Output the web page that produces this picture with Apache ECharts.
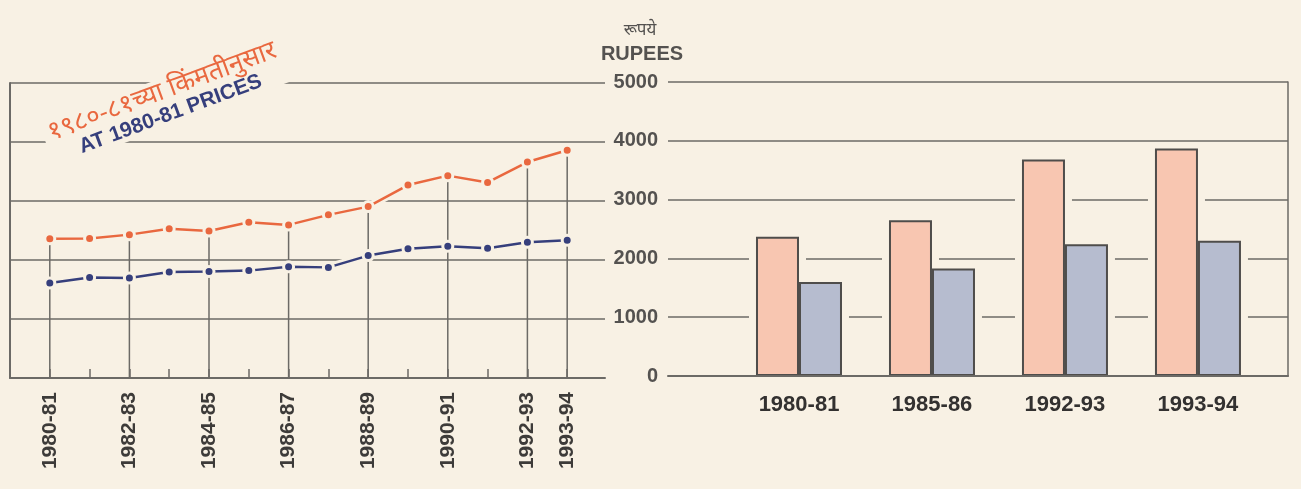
<!DOCTYPE html>
<html>
<head>
<meta charset="utf-8">
<script src="https://cdn.jsdelivr.net/npm/echarts@6/dist/echarts.min.js"></script>
<style>
  html, body { margin: 0; padding: 0; background: #f8f1e4; }
  #chart { width: 1301px; height: 489px; }
</style>
</head>
<body>
<div id="chart"></div>
<script>
// line chart, one point per year
const years = ['1980-81', '1981-82', '1982-83', '1983-84', '1984-85', '1985-86', '1986-87',
  '1987-88', '1988-89', '1989-90', '1990-91', '1991-92', '1992-93', '1993-94'];
const labelledYears = ['1980-81', '1982-83', '1984-85', '1986-87', '1988-89', '1990-91', '1992-93', '1993-94'];
const upperLine = [2360, 2365, 2430, 2530, 2490, 2640, 2595, 2765, 2905, 3270, 3430, 3315, 3660, 3860];
const lowerLine = [1610, 1705, 1695, 1795, 1805, 1820, 1885, 1875, 2075, 2190, 2235, 2200, 2300, 2335];

// bar chart
const barYears = ['1980-81', '1985-86', '1992-93', '1993-94'];
const upperBars = [2370, 2650, 3680, 3870];
const lowerBars = [1600, 1830, 2240, 2300];

const rupeeMin = 0, rupeeMax = 5000, rupeeStep = 1000;

const bg = '#f8f1e4',
  rule = '#6c6a66',
  orange = '#e9683f',
  navy = '#363f7c',
  labelFont = '"Liberation Sans", Arial, sans-serif',
  haloPad = 110; // rupees of clear space kept above each bar

const chart = echarts.init(document.getElementById('chart'), null, { renderer: 'canvas' });

const idx = (y) => years.indexOf(y),
  toPoints = (vals) => years.map((y, i) => [i, vals[i]]),
  yAxisBase = (grid) => ({
    type: 'value', gridIndex: grid, min: rupeeMin, max: rupeeMax, interval: rupeeStep,
    axisTick: { show: false }, axisLabel: { show: false }, splitLine: { show: false }, axisLine: { show: false },
  }),
  barHalo = (vals) => ({
    type: 'bar', xAxisIndex: 2, yAxisIndex: 1, z: 1, barWidth: 57, barGap: '-24.6%',
    itemStyle: { color: bg }, silent: true,
    data: barYears.map((y, i) => [i, vals[i] + haloPad]),
  });

chart.setOption({
  backgroundColor: bg,
  animation: false,
  grid: [
    { left: 10, top: 83, width: 595, height: 295 },
    { left: 668, top: 82, width: 620, height: 294 },
  ],
  xAxis: [
    {
      type: 'value', gridIndex: 0, min: -1, max: 13.95,
      axisLine: { lineStyle: { color: rule, width: 2 } },
      axisTick: {
        show: true, inside: true, length: 9, customValues: years.map((y, i) => i),
        lineStyle: { color: rule, width: 1.5 },
      },
      axisLabel: {
        customValues: labelledYears.map(idx), formatter: (v) => years[v] || '',
        rotate: 90, margin: 14, fontFamily: labelFont, fontSize: 21, fontWeight: 'bold', color: '#3d3b39',
      },
      splitLine: { show: false },
    },
    {
      type: 'value', gridIndex: 1, min: -0.985, max: 3.677, z: 3,
      axisLine: { lineStyle: { color: rule, width: 2 } },
      axisTick: { show: false },
      axisLabel: {
        customValues: barYears.map((y, i) => i), formatter: (v) => barYears[v] || '',
        margin: 18, fontFamily: labelFont, fontSize: 22, fontWeight: 'bold', color: '#333130',
      },
      splitLine: { show: false },
    },
    // hidden twin of the bar axis, carries the halos behind the bars
    { type: 'value', gridIndex: 1, min: -0.985, max: 3.677, show: false },
  ],
  yAxis: [
    Object.assign(yAxisBase(0), {
      axisLine: { show: true, onZero: false, lineStyle: { color: rule, width: 2 } },
      splitLine: { show: true, lineStyle: { color: rule, width: 1.5 } },
    }),
    Object.assign(yAxisBase(1), {
      axisLabel: {
        show: true, margin: 10, formatter: (v) => String(v),
        fontFamily: labelFont, fontSize: 20, fontWeight: 'bold', color: '#545250',
      },
      splitLine: { show: true, lineStyle: { color: rule, width: 1.5 } },
    }),
    Object.assign(yAxisBase(1), {
      position: 'right', z: 3,
      axisLine: { show: true, onZero: false, lineStyle: { color: rule, width: 1.5 } },
    }),
  ],
  series: [
    // drop lines from the upper curve at labelled years
    {
      type: 'bar', xAxisIndex: 0, yAxisIndex: 0, z: 1, barWidth: 1.5,
      itemStyle: { color: rule },
      data: labelledYears.map((y) => [idx(y), upperLine[idx(y)]]),
    },
    // background halos so the rules break around the curves
    {
      type: 'line', xAxisIndex: 0, yAxisIndex: 0, z: 3, symbol: 'none',
      lineStyle: { color: bg, width: 8 }, data: toPoints(upperLine),
    },
    {
      type: 'line', xAxisIndex: 0, yAxisIndex: 0, z: 3, symbol: 'none',
      lineStyle: { color: bg, width: 8 }, data: toPoints(lowerLine),
    },
    {
      name: 'upper', type: 'line', xAxisIndex: 0, yAxisIndex: 0, z: 4,
      symbol: 'circle', symbolSize: 10,
      lineStyle: { color: orange, width: 2.5 },
      itemStyle: { color: orange, borderColor: bg, borderWidth: 3 },
      data: toPoints(upperLine),
    },
    {
      name: 'lower', type: 'line', xAxisIndex: 0, yAxisIndex: 0, z: 4,
      symbol: 'circle', symbolSize: 10,
      lineStyle: { color: navy, width: 2.5 },
      itemStyle: { color: navy, borderColor: bg, borderWidth: 3 },
      data: toPoints(lowerLine),
    },
    barHalo(upperBars),
    barHalo(lowerBars),
    {
      type: 'bar', xAxisIndex: 1, yAxisIndex: 1, barWidth: 43, barGap: '0%',
      itemStyle: { color: '#f8c6b1', borderColor: '#4f4d4b', borderWidth: 2 },
      data: barYears.map((y, i) => [i, upperBars[i]]),
    },
    {
      type: 'bar', xAxisIndex: 1, yAxisIndex: 1, barWidth: 43, barGap: '0%',
      itemStyle: { color: '#b6bccf', borderColor: '#4f4d4b', borderWidth: 2 },
      data: barYears.map((y, i) => [i, lowerBars[i]]),
    },
  ],
  graphic: [
    {
      type: 'text', x: 640, y: 30, z: 10,
      style: { text: 'रूपये', align: 'center', verticalAlign: 'middle', font: '17px "Noto Sans", sans-serif', fill: '#545250' },
    },
    {
      type: 'text', x: 642, y: 54, z: 10,
      style: { text: 'RUPEES', align: 'center', verticalAlign: 'middle', font: 'bold 20px ' + labelFont, fill: '#545250' },
    },
    {
      type: 'text', x: 166, y: 102, z: 10, rotation: 0.355,
      style: {
        text: '{a|१९८०-८१च्या किंमतीनुसार}\n{b|AT 1980-81 PRICES}',
        align: 'center', verticalAlign: 'middle',
        backgroundColor: bg, padding: [0, 6],
        rich: {
          a: { fontFamily: '"Noto Sans", sans-serif', fontSize: 26, fill: orange, lineHeight: 26, align: 'center' },
          b: { fontFamily: labelFont, fontSize: 21, fontWeight: 'bold', fill: navy, lineHeight: 22, align: 'center' },
        },
      },
    },
  ],
});
</script>
</body>
</html>
